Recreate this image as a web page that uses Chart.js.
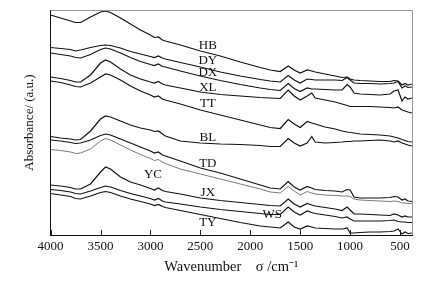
<!DOCTYPE html>
<html>
<head>
<meta charset="utf-8">
<script src="https://cdn.jsdelivr.net/npm/chart.js@4.4.1/dist/chart.umd.min.js"></script>
<style>
  body { margin: 0; background: #fff; }
  #wrap { width: 431px; height: 284px; }
</style>
</head>
<body>
<div id="wrap"><canvas id="ftir" width="431" height="284"></canvas></div>
<script>
// wavenumbers (cm-1) shared by every spectrum
const wavenumbers = [4000,3900,3800,3750,3700,3600,3500,3450,3400,3300,3200,3100,3000,2960,2920,2880,2850,2700,2500,2300,2100,1900,1800,1700,1620,1560,1500,1430,1384,1350,1250,1150,1080,1030,1000,960,900,800,700,600,560,520,480,450,420,380];
const xTicks = [4000,3500,3000,2500,2000,1500,1000,500];

// absorbance, arbitrary units (spectra stacked with offsets)
const HB = [220,217,214,212.5,212.5,218,223,224,222.5,217,211,205,200,197.5,198,195,194,190,184,179,173,167.5,165,163.5,169,165,162,165,164,163,161,159,157.5,158,156,155,154.5,154,153.5,153.5,154.5,154,150,151.5,150,151];
const DY = [187.5,186.5,185.5,184,185,187.5,189.5,190,189.5,187,183.5,181,178.5,177.5,179,177,176,172.5,168,163,159,155.5,154,153,159.5,155,152,156,155.5,155,155,155,154.5,157.5,155,152,151.5,151.5,151,151.5,152,153.5,147,149,147.5,148];
const DX = [182,180.5,179,177.5,177,180.5,185.5,187,186,182,177.5,173.5,170.5,169.5,171,168.5,168,164,159,154.5,150.5,147,145.5,144.5,151.5,146.5,143.5,147,146,146,145.5,145,145,150.5,148,142,141,140.5,140,141,144,145,134,138,136,137];
const XL = [158,156.5,154.5,153,153,160,172,175,173,166,160,156,153,152,153.5,151,150,147,143,140.5,139,137.5,137,136.5,145,139,135,139,142,137,135,133,131,129.5,128.5,128.5,128.5,128.5,128,127.5,127,128,125,124,123,122];
const TT = [154,152.5,150,148.5,148,152,158,161,160,155,149,144,140,138,139,136,135,131,125,120,115,110,107.5,106.5,115.5,111,107.5,113.5,112,111,108,106,104,103,102.5,102,101,100.5,100,99,98,97,95.5,94.5,93.5,93];
const BL = [98.5,97,96,95,95.5,104,116,119,118,114,110,107,105,103.5,104,101,99,94,92,91,90.5,89.5,88.5,88.5,96.5,92,89,92,98.5,93,92,92.5,93,93.5,93.5,94,94,94.5,95,94,93,94,92,91,90,89];
const TD = [95,94,92.5,91.5,92,95,99.5,101,100,96,92,88,84,82,83,80,79,74,67,62,56,50,47,46,53.5,48,45,48.5,47,45.5,44.5,44,43,45.5,45,38,37,37,37,37.5,38.5,38,35,36,34,33.5];
const YC = [85.5,84.5,83,81.5,82,86,94,96.5,95,90,85,80.5,76.5,74.5,75.5,73,71.5,66,61,56,51,46,43,42,48.5,44,40,43.5,42,41,40,39.5,39,39,38.5,36,35,34.5,34,33.5,34,33.5,32,32,31.5,31.5];
const JX = [50,49,47.5,46,46,51,63,68,66,58,53,50,46.5,45,47,44.5,43.5,41,37,34.5,32.5,30.5,29.5,29,36,31,28,31.5,30,29,27.5,26,24.5,28,25,21,21,20.5,20,19.5,21,20,18,19,18,18];
const WS = [45.5,44.5,43,41.5,41,44,47.5,49,48,44.5,41.5,39,36.5,35,36.5,34,33,31,28,25.5,23.5,21.5,20.5,20.5,28,23,20,24,22.5,21.5,20,18.5,17,18,16,14,14,14,14,14.5,15,13.5,13,13,12.5,12.5];
const TY = [41.5,40,38.5,36.5,36,39,42.5,43.5,42.5,39,36,33.5,31,29.5,30.5,28.5,27.5,24.5,20.5,16.5,12.5,9,8,7,13,8,6,9,8,7,6.5,6,6,7,2,2,2.5,3,3,3.5,4,6,1,3,1.5,2];

const seriesNames = ["HB","DY","DX","XL","TT","BL","TD","YC","JX","WS","TY"];
const seriesValues = [HB,DY,DX,XL,TT,BL,TD,YC,JX,WS,TY];

// sample labels: [text, wavenumber, absorbance]
const sampleLabels = [
  ["HB",2425,189],["DY",2425,174],["DX",2425,162],["XL",2425,147],["TT",2425,131],
  ["BL",2425,97.5],["TD",2425,71.5],["YC",2975,60.5],["JX",2425,42],["WS",1780,20],["TY",2425,12]
];

const serif = "'Liberation Serif', 'Times New Roman', serif";

const datasets = seriesNames.map((name, i) => ({
  label: name,
  data: wavenumbers.map((w, j) => ({ x: w, y: seriesValues[i][j] })),
  borderColor: name == "YC" ? "#7a7a7a" : "#111",
  borderWidth: name == "YC" ? 1 : 1.2,
  pointRadius: 0,
  tension: 0,
  fill: false
}));

// frame, inward ticks and curve labels
const decor = {
  id: "decor",
  afterDatasetsDraw(chart) {
    const { ctx, chartArea: a, scales } = chart;
    ctx.save();
    ctx.strokeStyle = "#999";
    ctx.lineWidth = 1;
    ctx.beginPath();
    ctx.moveTo(a.left, a.top + 0.5);
    ctx.lineTo(a.right + 0.5, a.top + 0.5);
    ctx.lineTo(a.right + 0.5, a.bottom);
    ctx.stroke();

    ctx.strokeStyle = "#222";
    xTicks.forEach(v => {
      const px = Math.round(scales.x.getPixelForValue(v)) + 0.5;
      ctx.beginPath();
      ctx.moveTo(px, a.bottom);
      ctx.lineTo(px, a.bottom - 5);
      ctx.stroke();
    });

    ctx.fillStyle = "#111";
    ctx.font = "13px " + serif;
    ctx.textAlign = "center";
    ctx.textBaseline = "middle";
    sampleLabels.forEach(([t, w, v]) => {
      ctx.fillText(t, scales.x.getPixelForValue(w), scales.y.getPixelForValue(v));
    });
    ctx.restore();
  }
};

new Chart(document.getElementById("ftir"), {
  type: "line",
  data: { datasets },
  plugins: [decor],
  options: {
    responsive: false,
    animation: false,
    layout: { padding: { left: 22, right: 19, top: 10, bottom: 7 } },
    plugins: { legend: { display: false }, tooltip: { enabled: false } },
    scales: {
      x: {
        type: "linear",
        reverse: true,
        min: 380,
        max: 4000,
        afterBuildTicks: axis => { axis.ticks = xTicks.map(v => ({ value: v })); },
        grid: { display: false, drawTicks: false, tickLength: 0 },
        border: { display: true, color: "#111", width: 1 },
        ticks: { color: "#111", font: { family: serif, size: 13 }, padding: 4, maxRotation: 0, callback: v => String(v) },
        title: { display: true, text: "Wavenumber    \u03c3 /cm\u207b\u00b9", color: "#111", font: { family: serif, size: 14.5 }, padding: { top: 0, bottom: 1 } }
      },
      y: {
        min: 0,
        max: 225,
        grid: { display: false, drawTicks: false, tickLength: 0 },
        border: { display: true, color: "#111", width: 1 },
        ticks: { display: false },
        title: { display: true, text: "Absorbance/ (a.u.)", color: "#111", font: { family: serif, size: 13 }, padding: { top: 0, bottom: 13 } }
      }
    }
  }
});
</script>
</body>
</html>
